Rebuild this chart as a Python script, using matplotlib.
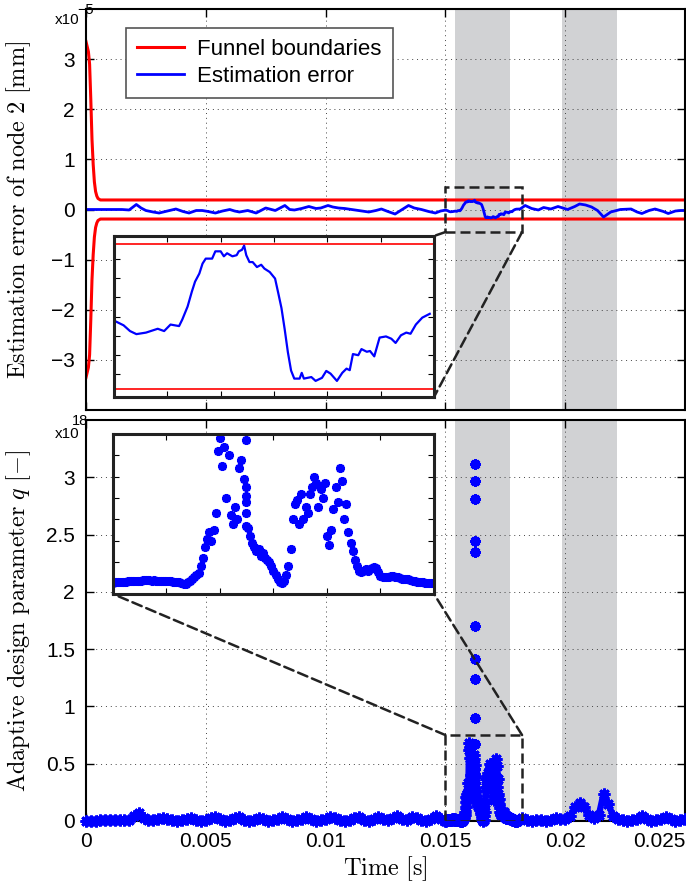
import numpy as np
import matplotlib
matplotlib.use('Agg')
import matplotlib.pyplot as plt
from matplotlib.patches import Rectangle, ConnectionPatch

# ---------------- data ----------------
# Funnel boundary (upper; lower is symmetric), units 1e-5 mm, time in ms
funnel_t_ms = [0, 0.1, 0.15, 0.2, 0.25, 0.3, 0.35, 0.4, 0.45, 0.5, 0.6, 25.0]
funnel_up = [3.35, 3.15, 2.9, 2.2, 1.4, 0.9, 0.55, 0.36, 0.27, 0.22, 0.19, 0.19]

# Estimation error (units 1e-5 mm), time in ms
err_t_ms_a = [0, 0.5, 1.0, 1.5, 1.8, 2.1, 2.3, 2.5, 2.8, 3.05, 3.4, 3.75, 4.05, 4.3, 4.6,
              4.85, 5.1, 5.4, 5.7, 6.0, 6.2, 6.4, 6.75, 7.1, 7.5, 7.9, 8.3, 8.5, 8.7, 9.0,
              9.3, 9.6, 9.8, 10.1, 10.3, 10.54, 10.8, 11.08, 11.5, 11.8, 12.1, 12.33, 12.6,
              12.9, 13.2, 13.46, 13.7, 14.0, 14.3, 14.58, 14.8]
err_a = [0, 0, 0, 0, -0.01, 0.1, 0.03, -0.02, -0.05, -0.07, -0.03, 0.01, -0.04, -0.07, -0.02,
         -0.02, -0.04, -0.07, -0.03, 0.0, -0.03, -0.05, -0.02, -0.07, 0.03, -0.02, 0.08, 0.0,
         -0.01, 0.02, 0.06, 0.02, 0.03, 0.08, 0.05, 0.03, 0.02, 0.0, -0.03, -0.05, -0.02, 0.01,
         -0.04, -0.09, 0.0, 0.08, 0.03, 0.0, -0.04, -0.07, -0.03]
err_t_ms_b = [15.01, 15.09, 15.15, 15.21, 15.30, 15.41, 15.47, 15.53, 15.61, 15.64, 15.69, 15.73,
              15.76, 15.80, 15.83, 15.86, 15.92, 15.95, 16.00, 16.03, 16.06, 16.11, 16.15, 16.17,
              16.20, 16.22, 16.24, 16.27, 16.30, 16.34, 16.38, 16.41, 16.46, 16.51, 16.54, 16.57,
              16.60, 16.63, 16.66, 16.69, 16.74, 16.76, 16.78, 16.85, 16.89, 16.95, 16.99, 17.03,
              17.09, 17.14, 17.18, 17.21, 17.24, 17.29, 17.32, 17.37, 17.40, 17.44, 17.49, 17.55,
              17.60, 17.64, 17.69, 17.74, 17.78, 17.83, 17.89, 17.96]
err_b = [-0.012, -0.023, -0.038, -0.046, -0.042, -0.032, -0.038, -0.021, -0.025, -0.008, 0.026,
         0.065, 0.091, 0.112, 0.138, 0.151, 0.151, 0.170, 0.170, 0.157, 0.165, 0.157, 0.160,
         0.170, 0.174, 0.185, 0.160, 0.142, 0.142, 0.129, 0.135, 0.125, 0.116, 0.099, 0.061,
         0.022, -0.033, -0.093, -0.141, -0.162, -0.162, -0.147, -0.162, -0.158, -0.168, -0.160,
         -0.142, -0.149, -0.168, -0.147, -0.136, -0.140, -0.098, -0.101, -0.085, -0.092, -0.090,
         -0.104, -0.055, -0.052, -0.058, -0.069, -0.049, -0.042, -0.045, -0.021, -0.003, 0.007]
err_t_ms_c = [18.12, 18.33, 18.6, 18.88, 19.1, 19.4, 19.7, 20.1, 20.4, 20.6, 20.85, 21.1, 21.35,
              21.6, 21.9, 22.3, 22.75, 23.0, 23.2, 23.5, 23.75, 24.1, 24.3, 24.6, 24.83, 25.0]
err_c = [0.01, 0.08, 0.02, -0.01, 0.04, 0.01, 0.06, 0.0, 0.06, 0.11, 0.09, 0.05, -0.02, -0.15,
         -0.05, 0.0, 0.01, -0.05, -0.08, -0.02, 0.01, -0.04, -0.08, -0.03, -0.02, -0.02]

# Adaptive parameter q (units 1e18)
q_step_coarse = 0.0002
q_base_a = [0, 0, 0, 0.005, 0.005, 0.005, 0.005, 0.005, 0.01, 0.01,
            0.04, 0.07, 0.03, 0.01, 0.005, 0.02, 0.03, 0.015, 0.005, 0.0,
            0.005, 0.02, 0.03, 0.01, 0.0, 0.01, 0.025, 0.035, 0.015, 0.0,
            0.005, 0.025, 0.035, 0.01, 0.0, 0.01, 0.03, 0.02, 0.0, 0.005,
            0.02, 0.035, 0.015, 0.0, 0.005, 0.02, 0.035, 0.02, 0.0, 0.005,
            0.02, 0.035, 0.025, 0.005, 0.0, 0.01, 0.03, 0.035, 0.01, 0.0,
            0.015, 0.035, 0.015, 0.005, 0.025, 0.04, 0.015, 0.01, 0.035, 0.03,
            0.005, 0.0, 0.02, 0.04, 0.02]          # t = 0 ... 0.0148
q_step_fine = 0.00002
q_window = [0.003, 0.004, 0.005, 0.006, 0.007, 0.008, 0.008, 0.009, 0.010, 0.011,
            0.012, 0.012, 0.013, 0.013, 0.014, 0.014, 0.015, 0.014, 0.013, 0.014,
            0.013, 0.012, 0.013, 0.012, 0.012, 0.011, 0.010, 0.009, 0.008, 0.007,
            0.005, 0.004, 0.002, -0.002, -0.004, 0.004, 0.012, 0.020, 0.030, 0.040,
            0.050, 0.080, 0.120, 0.170, 0.210, 0.240, 0.200, 0.250, 0.330, 0.620,
            0.680, 0.550, 0.640, 0.400, 0.600, 0.320, 0.280, 0.360, 0.300, 0.540,
            0.580, 0.490, 0.380, 0.260, 0.220, 0.190, 0.170, 0.150, 0.160, 0.130,
            0.140, 0.120, 0.110, 0.100, 0.080, 0.060, 0.040, 0.020, 0.005, 0.003,
            0.010, 0.040, 0.080, 0.160, 0.300, 0.370, 0.390, 0.280, 0.420, 0.300,
            0.360, 0.330, 0.420, 0.450, 0.500, 0.470, 0.360, 0.440, 0.400, 0.470,
            0.220, 0.180, 0.250, 0.350, 0.450, 0.380, 0.540, 0.480, 0.300, 0.370,
            0.240, 0.190, 0.150, 0.110, 0.080, 0.060, 0.055, 0.060, 0.065, 0.060,
            0.065, 0.070, 0.075, 0.070, 0.055, 0.035, 0.030, 0.028, 0.030, 0.032,
            0.035, 0.033, 0.030, 0.028, 0.025, 0.022, 0.020, 0.020, 0.018, 0.015,
            0.012, 0.010, 0.008, 0.006, 0.005, 0.004, 0.003, 0.002, 0.002, 0.003, 0.003]  # t = 0.015 ... 0.018
q_base_c = [0.03, 0.01, 0.0, 0.005, 0.01, 0.0, 0.01, 0.03, 0.015, 0.02,
            0.04, 0.12, 0.16, 0.12, 0.05, 0.03, 0.05, 0.24, 0.15, 0.04,
            0.02, 0.01, 0.0, 0.005, 0.02, 0.04, 0.02, 0.0, 0.005, 0.02,
            0.035, 0.02, 0.0, 0.01, 0.02]          # t = 0.0182 ... 0.025
spike_t = 0.01624
spike_q = [3.12, 2.97, 2.81, 2.44, 2.35, 1.70, 1.41, 1.24, 0.90, 0.67, 0.45, 0.41, 0.33, 0.27]

# Shaded intervals and zoom window
bands = [(0.0154, 0.01769), (0.01985, 0.02215)]
zoom_t = (0.015, 0.0182)
inset_xlim = (0.015, 0.018)
box_err_half = 0.45
box_q_top = 0.75

x_ticks = [0, 0.005, 0.01, 0.015, 0.02, 0.025]
x_labels = ['0', '0.005', '0.01', '0.015', '0.02', '0.025']
y1_ticks = [-3, -2, -1, 0, 1, 2, 3]
y1_labels = ['\u22123', '\u22122', '\u22121', '0', '1', '2', '3']
y2_ticks = [0, 0.5, 1, 1.5, 2, 2.5, 3]
y2_labels = ['0', '0.5', '1', '1.5', '2', '2.5', '3']

# ---------------- build series ----------------
ft = np.array(funnel_t_ms) * 1e-3
fu = np.array(funnel_up)
et = np.concatenate([err_t_ms_a, err_t_ms_b, err_t_ms_c]) * 1e-3
ev = np.concatenate([err_a, err_b, err_c])
et_b = np.array(err_t_ms_b) * 1e-3
ev_b = np.array(err_b)

tq_a = np.arange(len(q_base_a)) * q_step_coarse
tq_w = 0.015 + np.arange(len(q_window)) * q_step_fine
tq_c = 0.0182 + np.arange(len(q_base_c)) * q_step_coarse
tq = np.concatenate([tq_a, tq_w, tq_c])
qv = np.concatenate([q_base_a, q_window, q_base_c])

# ---------------- figure ----------------
W, H = 686, 890
plt.rcParams['font.family'] = ['Liberation Sans', 'DejaVu Sans']
plt.rcParams['mathtext.fontset'] = 'cm'
fig = plt.figure(figsize=(W / 100, H / 100), dpi=100)


def fx(px):
    return px / W


def fy(py):
    return 1 - py / H


RED = '#ff0000'
BLUE = '#0000ff'
BAND = '#d1d2d4'
BOXC = '#222222'
DASH = (0, (4, 2))
ASTER = (8, 2, 0)
LABEL_FS = 17.5

ax1 = fig.add_axes([fx(86), fy(410), (685 - 86) / W, (410 - 9) / H])
ax2 = fig.add_axes([fx(86), fy(821), (685 - 86) / W, (821 - 420) / H])


def style_main(ax):
    for s in ax.spines.values():
        s.set_linewidth(1.5)
        s.set_color('k')
    ax.tick_params(direction='in', length=6, width=1, top=True, right=True,
                   labelsize=15, pad=8)
    ax.grid(True, linestyle=(0, (1, 4)), color='#444444', linewidth=0.7)
    ax.set_xlim(0, 0.025)
    ax.set_xticks(x_ticks)
    for b0, b1 in bands:
        ax.axvspan(b0, b1, color=BAND, lw=0, zorder=0.5)


style_main(ax1)
style_main(ax2)

# ---- top panel ----
ax1.plot(ft, fu, color=RED, lw=2.2, label='Funnel boundaries')
ax1.plot(ft, -fu, color=RED, lw=2.2)
ax1.plot(et, ev, color=BLUE, lw=2.0, label='Estimation error')
ax1.set_ylim(-4, 4)
ax1.set_yticks(y1_ticks)
ax1.set_yticklabels(y1_labels)
ax1.set_xticklabels([])
ax1.set_ylabel(r'$\mathrm{Estimation\ error\ of\ node\ 2\ [mm]}$', fontsize=LABEL_FS)
ax1.yaxis.set_label_coords(-0.088, 0.5)
leg = ax1.legend(loc='upper left', bbox_to_anchor=(0.0668, 0.9526), borderaxespad=0,
                 fontsize=16, handlelength=2.1, handletextpad=0.6, labelspacing=0.25,
                 borderpad=0.5, fancybox=False, framealpha=1)
leg.get_frame().set_edgecolor('#555555')
leg.get_frame().set_linewidth(1.2)

ax1.add_patch(Rectangle((zoom_t[0], -box_err_half), zoom_t[1] - zoom_t[0], 2 * box_err_half,
                        fill=False, ec=BOXC, lw=1.8, ls=DASH, zorder=5))

fig.text(fx(55), fy(20), 'x10', fontsize=11, ha='left', va='center')
fig.text(fx(77), fy(10), '\u22125', fontsize=10.5, ha='left', va='center')

ins1 = fig.add_axes([fx(114), fy(397), (434 - 114) / W, (397 - 236) / H])
ins1.plot(ft, fu, color=RED, lw=1.2)
ins1.plot(ft, -fu, color=RED, lw=1.2)
ins1.plot(et_b, ev_b, color=BLUE, lw=1.6)
ins1.set_xlim(*inset_xlim)
ins1.set_ylim(-0.21, 0.21)
ins1.set_xticks(np.arange(0.015, 0.01801, 0.0005))
ins1.set_yticks(np.arange(-0.15, 0.151, 0.05))

# ---- bottom panel ----
ax2.plot(tq, qv, color=BLUE, lw=4.5, marker=ASTER, ms=8.5, mew=2, clip_on=False, zorder=3)
ax2.plot(np.full(len(spike_q), spike_t), spike_q, ls='none', color=BLUE, marker=ASTER,
         ms=7.5, mew=2.2, zorder=3)
ax2.set_ylim(0, 3.5)
ax2.set_yticks(y2_ticks)
ax2.set_yticklabels(y2_labels)
ax2.set_xticklabels(x_labels)
lbls = ax2.get_xticklabels()
lbls[-1].set_horizontalalignment('right')
ax2.set_ylabel(r'$\mathrm{Adaptive\ design\ parameter\ }q\mathrm{\ [-]}$', fontsize=LABEL_FS)
ax2.yaxis.set_label_coords(-0.088, 0.5)
ax2.set_xlabel(r'$\mathrm{Time\ [s]}$', fontsize=LABEL_FS)
ax2.xaxis.set_label_coords(0.5, -0.082)
ax2.add_patch(Rectangle((zoom_t[0], 0), zoom_t[1] - zoom_t[0], box_q_top,
                        fill=False, ec=BOXC, lw=1.8, ls=DASH, zorder=5))

fig.text(fx(55), fy(434), 'x10', fontsize=11, ha='left', va='center')
fig.text(fx(72), fy(421), '18', fontsize=10.5, ha='left', va='center')

ins2 = fig.add_axes([fx(113), fy(594), (434 - 113) / W, (594 - 434) / H])
ins2.plot(tq_w, q_window, ls='none', color=BLUE, marker=ASTER, ms=6.5, mew=1.8)
ins2.plot(np.full(len(spike_q), spike_t), spike_q, ls='none', color=BLUE, marker=ASTER,
          ms=6.5, mew=1.8)
ins2.set_xlim(*inset_xlim)
ins2.set_ylim(-0.05, 0.7)
ins2.set_xticks(np.arange(0.015, 0.01801, 0.0005))
ins2.set_yticks(np.arange(0.1, 0.61, 0.1))

for ins in (ins1, ins2):
    ins.set_facecolor('white')
    ins.set_xticklabels([])
    ins.set_yticklabels([])
    ins.tick_params(direction='in', length=4, width=0.8, top=True, right=True)
    for s in ins.spines.values():
        s.set_linewidth(2.2)
        s.set_color(BOXC)

# connectors
cons = [
    ConnectionPatch(xyA=(zoom_t[0], -box_err_half), coordsA=ax1.transData,
                    xyB=(1, 1), coordsB=ins1.transAxes),
    ConnectionPatch(xyA=(zoom_t[1], -box_err_half), coordsA=ax1.transData,
                    xyB=(1, 0), coordsB=ins1.transAxes),
    ConnectionPatch(xyA=(zoom_t[0], box_q_top), coordsA=ax2.transData,
                    xyB=(0, 0), coordsB=ins2.transAxes),
    ConnectionPatch(xyA=(zoom_t[1], box_q_top), coordsA=ax2.transData,
                    xyB=(1, 0), coordsB=ins2.transAxes),
]
for c in cons:
    c.set_color(BOXC)
    c.set_linewidth(1.8)
    c.set_linestyle(DASH)
    fig.add_artist(c)

fig.savefig('out.png', dpi=100)
